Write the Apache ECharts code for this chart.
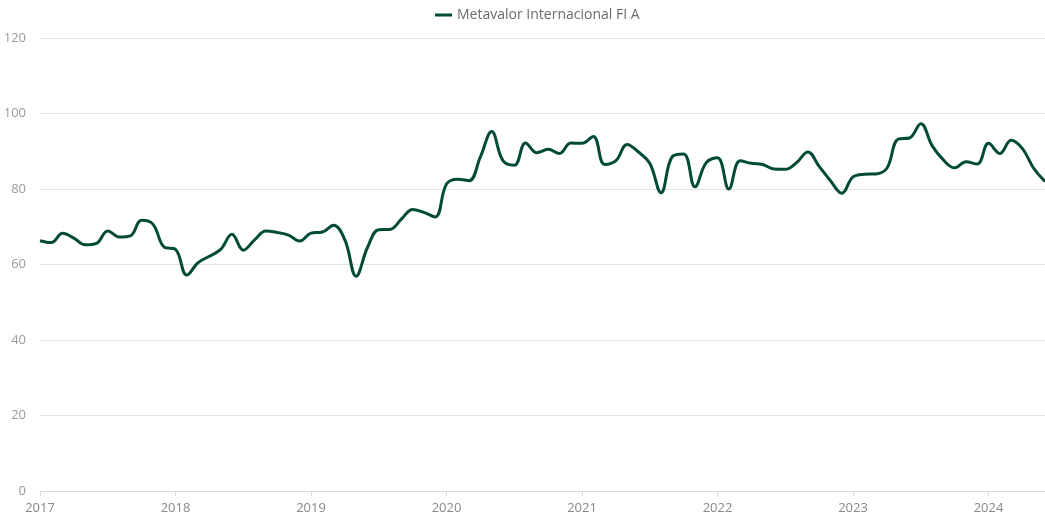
<!DOCTYPE html>
<html>
<head>
<meta charset="utf-8">
<script src="https://cdn.jsdelivr.net/npm/echarts@6/dist/echarts.min.js"></script>
<style>
  html, body { margin: 0; padding: 0; background: #fff; }
  #chart { width: 1045px; height: 526px; }
</style>
</head>
<body>
<div id="chart"></div>
<script>
const seriesName = 'Metavalor Internacional FI A'

// monthly points, Jan 2017 .. Jun 2024
const startYear = 2017
const months = []
for (let i = 0; i < 90; i++) {
  const y = startYear + Math.floor(i / 12)
  const m = (i % 12) + 1
  months.push(y + '-' + String(m).padStart(2, '0'))
}

const values = [
  66.3, 65.8, 68.3, 67.0, 65.2, 65.6, 68.9, 67.3, 67.6, 71.7, 70.7, 64.6,
  64.0, 57.2, 60.5, 62.2, 64.0, 68.0, 63.8, 66.5, 68.9, 68.5, 67.8, 66.2,
  68.3, 68.6, 70.4, 66.5, 56.9, 64.5, 69.2, 69.3, 72.0, 74.6, 73.8, 72.6,
  81.3, 82.6, 82.2, 88.5, 95.2, 87.5, 86.3, 92.2, 89.6, 90.5, 89.4, 92.2,
  92.1, 93.9, 86.5, 87.5, 91.8, 89.8, 86.8, 79.0, 88.6, 89.3, 80.6, 87.0,
  88.3, 80.0, 87.5, 86.8, 86.5, 85.3, 85.2, 87.0, 89.8, 86.0, 82.2, 78.9,
  83.2, 83.9, 84.0, 85.5, 93.2, 93.5, 97.3, 91.5, 87.7, 85.6, 87.2, 86.6,
  92.1, 89.4, 92.9, 90.7, 85.5, 82.0
]

const yTicks = [0, 20, 40, 60, 80, 100, 120]

const toYear = (s) => {
  const [y, m] = s.split('-').map(Number)
  return y + (m - 1) / 12
}

const points = months.map((d, i) => [toYear(d), values[i]])

const chart = echarts.init(document.getElementById('chart'))

chart.setOption({
  animation: false,
  textStyle: { fontFamily: 'Open Sans' },
  legend: {
    data: [seriesName],
    top: 3,
    left: 430,
    icon: 'rect',
    itemWidth: 17,
    itemHeight: 3,
    textStyle: { color: '#6b6b6b', fontSize: 14, fontFamily: 'Open Sans' }
  },
  grid: {
    left: 40,
    right: 0,
    top: 38,
    bottom: 35
  },
  xAxis: {
    type: 'value',
    min: 2017,
    max: points[points.length - 1][0],
    interval: 1,
    axisLine: { lineStyle: { color: '#d9d9d9' } },
    axisTick: { show: true, length: 5, lineStyle: { color: '#d9d9d9' } },
    axisLabel: {
      color: '#888',
      fontSize: 13,
      margin: 11,
      showMaxLabel: false,
      formatter: (v) => String(Math.round(v))
    },
    splitLine: { show: false }
  },
  yAxis: {
    type: 'value',
    min: yTicks[0],
    max: yTicks[yTicks.length - 1],
    interval: 20,
    axisLine: { show: false },
    axisTick: { show: false },
    axisLabel: { color: '#999', fontSize: 13, margin: 14 },
    splitLine: { lineStyle: { color: '#e3e3e3' } }
  },
  series: [
    {
      name: seriesName,
      type: 'line',
      data: points,
      smooth: 0.4,
      showSymbol: false,
      symbol: 'none',
      lineStyle: { width: 3, color: '#004b37' },
      itemStyle: { color: '#004b37' }
    }
  ]
})
</script>
</body>
</html>
